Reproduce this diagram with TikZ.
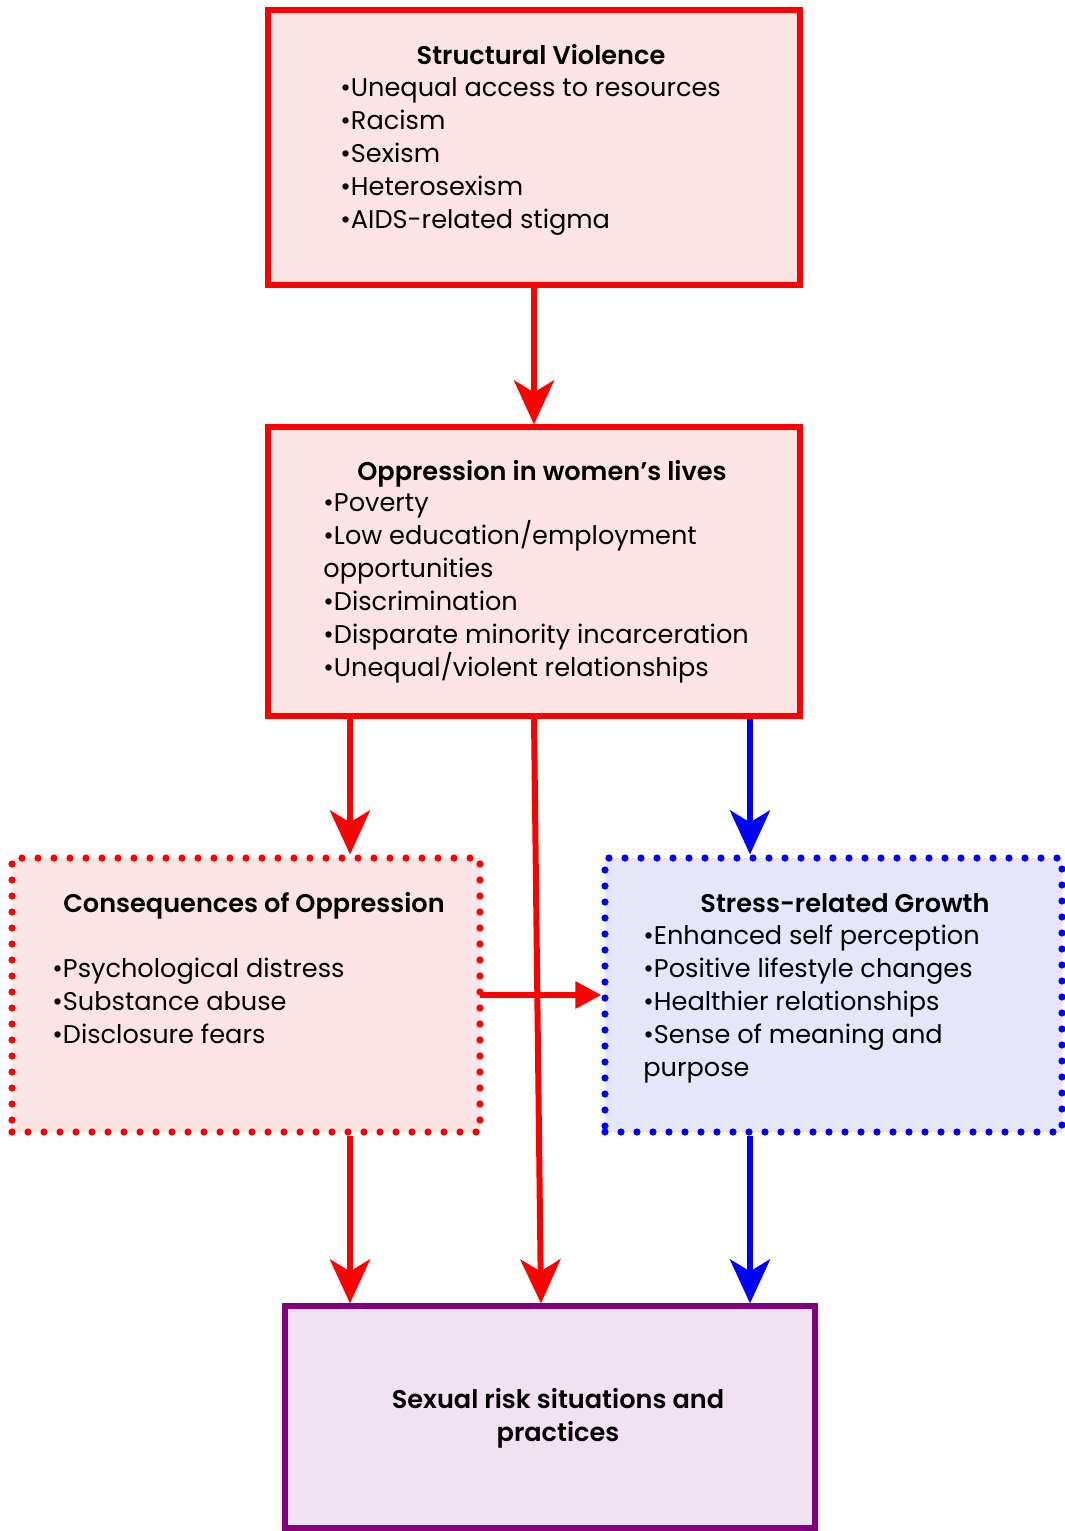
\documentclass[tikz,border=0pt]{standalone}
\usepackage{fontspec}
\setmainfont{Poppins}[BoldFont={Poppins SemiBold}]
\usetikzlibrary{arrows.meta}
\definecolor{pinkfill}{RGB}{253,228,228}
\definecolor{lavfill}{RGB}{230,230,251}
\definecolor{plumfill}{RGB}{240,226,240}
\definecolor{plum}{RGB}{128,0,128}
\begin{document}
\begin{tikzpicture}[x=0.5pt,y=-0.5pt,
  box/.style={rectangle, line width=2.6pt, minimum width=#1},
  dotbox/.style={rectangle, line width=3.6pt, dash pattern=on 0pt off 8pt, line cap=round, minimum width=#1},
  txt/.style={anchor=base west, align=left, inner sep=0pt, font=\fontsize{12.8}{16.5}\selectfont},
  ttl/.style={anchor=base, inner sep=0pt, font=\fontsize{12.8}{16.5}\selectfont\bfseries, align=center},
  redarrow/.style={draw=red, line width=3pt, -{Stealth[length=22pt,width=20pt,inset=6pt]}},
  bluearrow/.style={draw=blue, line width=3pt, -{Stealth[length=22pt,width=20pt,inset=6pt]}}]
\useasboundingbox (0,0) rectangle (1065,1531);
\node[box=266pt, minimum height=137.5pt, draw=red, fill=pinkfill] (sv) at (534,147.5){};
\node[box=266pt, minimum height=144.5pt, draw=red, fill=pinkfill] (op) at (534,571.5){};
\node[dotbox=234pt, minimum height=137pt, draw=red, fill=pinkfill] (co) at (246,995){};
\node[dotbox=228.5pt, minimum height=137pt, draw=blue, fill=lavfill] (sg) at (833.5,995){};
\node[box=265pt, minimum height=111pt, draw=plum, fill=plumfill] (sr) at (550,1417){};
\node[ttl] (svt) at (541,64){Structural Violence};
\node[txt] (svl) at (340,228){•Unequal access to resources\\•Racism\\•Sexism\\•Heterosexism\\•AIDS-related stigma};
\node[ttl] (opt) at (542,480){Oppression in women’s lives};
\node[txt] (opl) at (323,676){•Poverty\\•Low education/employment\\opportunities\\•Discrimination\\•Disparate minority incarceration\\•Unequal/violent relationships};
\node[ttl] (cot) at (254,912){Consequences of Oppression};
\node[txt] (col) at (52,1043){•Psychological distress\\•Substance abuse\\•Disclosure fears};
\node[ttl] (sgt) at (845,912){Stress-related Growth};
\node[txt] (sgl) at (643,1076){•Enhanced self perception\\•Positive lifestyle changes\\•Healthier relationships\\•Sense of meaning and\\purpose};
\node[ttl] (srt) at (558,1441){Sexual risk situations and\\practices};
\draw[redarrow](sv) -- (op);
\draw[redarrow]([xshift=-92pt]op.south) -- ([xshift=52pt]co.north);
\draw[redarrow](op.south) -- ([xshift=-4.5pt]sr.north);
\draw[bluearrow]([xshift=108pt]op.south) -- ([xshift=-41.75pt]sg.north);
\draw[draw=red, line width=3pt, -{Triangle[length=13pt,width=13pt]}]([xshift=-2pt]co.east) -- (sg.west);
\draw[redarrow]([xshift=52pt]co.south) -- ([xshift=-100pt]sr.north);
\draw[bluearrow]([xshift=-41.75pt]sg.south) -- ([xshift=100pt]sr.north);
\end{tikzpicture}
\end{document}
